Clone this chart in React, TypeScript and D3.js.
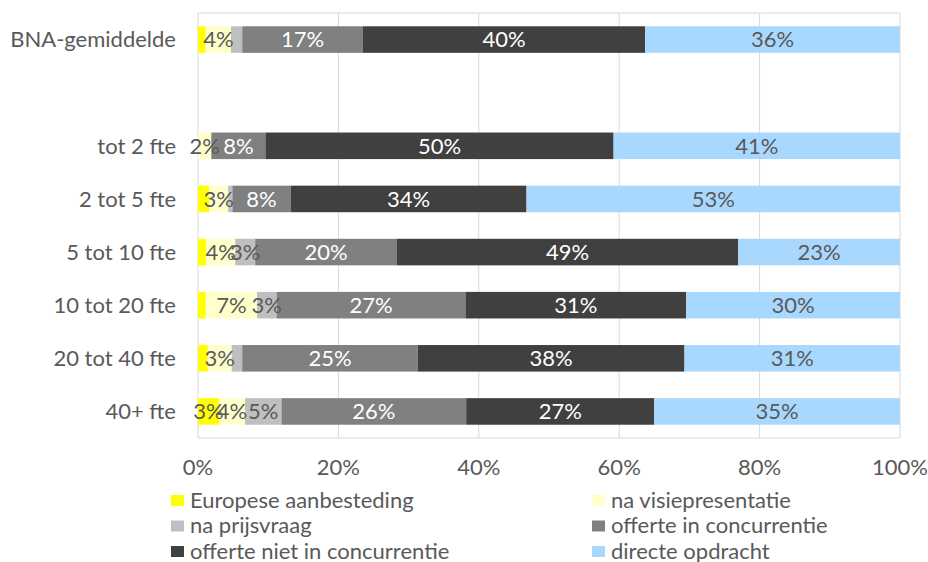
import React from 'react';
import * as d3 from 'd3';

const categories = ['BNA-gemiddelde', '', 'tot 2 fte', '2 tot 5 fte', '5 tot 10 fte', '10 tot 20 fte', '20 tot 40 fte', '40+ fte'];
const seriesNames = ['Europese aanbesteding', 'na visiepresentatie', 'na prijsvraag', 'offerte in concurrentie', 'offerte niet in concurrentie', 'directe opdracht'];

const europese = [1.1, null, 0, 1.6, 1.2, 1.1, 1.4, 3.0];
const visie = [3.6, null, 1.9, 2.7, 4.1, 7.3, 3.4, 3.7];
const prijsvraag = [1.6, null, 0, 0.6, 2.85, 2.8, 1.5, 5.2];
const inConc = [17.2, null, 7.7, 8.3, 20.2, 26.9, 25.0, 26.3];
const nietConc = [40.2, null, 49.6, 33.6, 48.6, 31.45, 38.0, 26.8];
const direct = [36.3, null, 40.8, 53.2, 23.05, 30.45, 30.7, 35.0];

const xTicks = [0, 20, 40, 60, 80, 100];

const colors = ['#FFFF00', '#FFFFCC', '#BFBFBF', '#808080', '#404040', '#A9D8FF'];
const labelColors = ['#595959', '#595959', '#595959', '#FFFFFF', '#FFFFFF', '#595959'];

const W = 928, H = 562;
const FONT = 'Lato, "Open Sans", sans-serif';
const TXT = '#595959';
const FS = 22;

export default function App() {
  const allSeries = [europese, visie, prijsvraag, inConc, nietConc, direct];
  const left = 198, right = 900, top = 13, bottom = 438;

  const x = d3.scaleLinear().domain([0, 100]).range([left, right]);
  const y = d3.scaleBand().domain(categories.map((_, i) => String(i))).range([top, bottom]).paddingInner(0.5).paddingOuter(0.25);

  // stacked rows (blank row skipped)
  const rows = categories.map((c, i) => {
    if (allSeries[0][i] == null) return null;
    let acc = 0;
    return allSeries.map((s, k) => {
      const v = s[i] as number;
      const seg = { k, v, x0: acc, x1: acc + v };
      acc += v;
      return seg;
    });
  });

  const legendCols = [171, 592];

  return (
    <div style={{ position: 'absolute', left: 0, top: 0 }}>
      <svg width={W} height={H} style={{ display: 'block', background: '#fff' }} fontFamily={FONT}>
        {xTicks.map(t => (
          <line key={t} x1={x(t)} x2={x(t)} y1={top} y2={bottom} stroke="#D9D9D9" strokeWidth={1} />
        ))}
        <line x1={left} x2={right} y1={top} y2={top} stroke="#D9D9D9" />
        <line x1={left} x2={right} y1={bottom} y2={bottom} stroke="#D9D9D9" />

        {rows.map((segs, i) => segs && (
          <g key={i}>
            {segs.map(s => s.v > 0 && (
              <rect key={s.k} x={x(s.x0)} y={y(String(i))} width={x(s.x1) - x(s.x0)} height={y.bandwidth()} fill={colors[s.k]} />
            ))}
            {segs.map(s => s.v >= 1.8 && (
              <text key={'t' + s.k} x={(x(s.x0) + x(s.x1)) / 2} y={y(String(i))! + y.bandwidth() / 2}
                dy="0.35em" textAnchor="middle" fontSize={FS} fill={labelColors[s.k]}>
                {Math.round(s.v) + '%'}
              </text>
            ))}
          </g>
        ))}

        {categories.map((c, i) => (
          <text key={i} x={176} y={y(String(i))! + y.bandwidth() / 2} dy="0.35em" textAnchor="end" fontSize={FS} fill={TXT}>{c}</text>
        ))}

        {xTicks.map(t => (
          <text key={t} x={x(t)} y={467} dy="0.35em" textAnchor="middle" fontSize={FS} fill={TXT}>{t + '%'}</text>
        ))}

        {seriesNames.map((n, k) => {
          const col = k % 2, row = Math.floor(k / 2);
          const lx = legendCols[col], ly = 500 + row * 25.5;
          return (
            <g key={n}>
              <rect x={lx} y={ly - 5} width={13} height={11} fill={colors[k]} />
              <text x={lx + 19} y={ly} dy="0.35em" fontSize={FS} fill={TXT}>{n}</text>
            </g>
          );
        })}
      </svg>
    </div>
  );
}
